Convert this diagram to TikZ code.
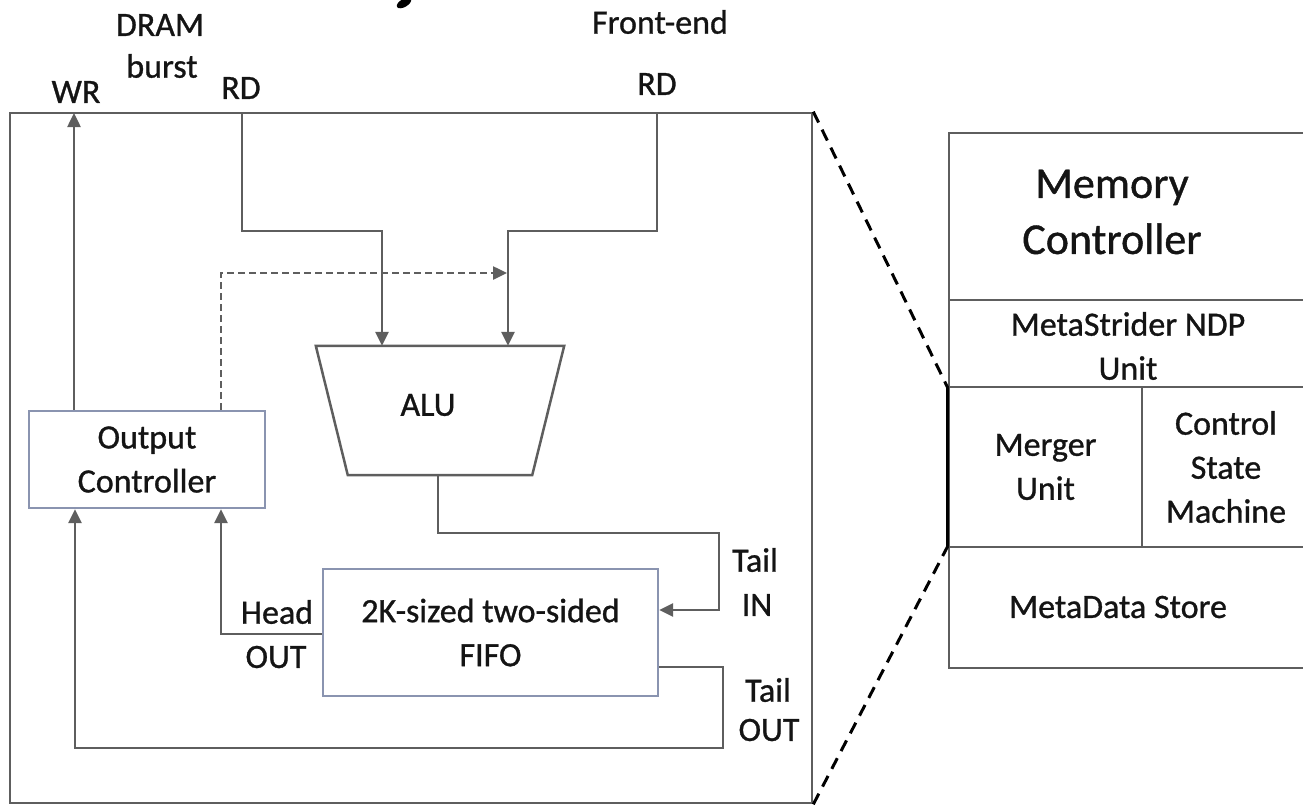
\documentclass[tikz,border=0pt]{standalone}
\usepackage{fontspec}
\setmainfont{Carlito}[FakeBold=0.9]
\usetikzlibrary{arrows.meta,calc}
\definecolor{linegray}{HTML}{5E5E5E}
\definecolor{boxblue}{HTML}{8A94B0}
\definecolor{txt}{HTML}{141414}
\begin{document}
\begin{tikzpicture}[x=1pt,y=-1pt,
  line/.style={draw=linegray, line width=2.5pt},
  arr/.style={line, -{Triangle[length=14pt,width=13pt]}},
  lbl/.style={font=\fontsize{34}{44}\selectfont, text=txt, align=center, inner sep=0pt},
  bigl/.style={font=\fontsize{44}{56}\selectfont, text=txt, align=center, inner sep=0pt},
  bluebox/.style={lbl, draw=boxblue, line width=2.4pt},
  panel/.style={lbl, draw=linegray, line width=2.2pt},
  zoomdash/.style={draw=black, line width=3pt, dash pattern=on 12pt off 8pt}]
\useasboundingbox (0,0) rectangle (1303,806);
% cut-off title fragment
\fill[black] (404,3) ellipse [x radius=8, y radius=4, rotate=30];
% main box
\node[draw=linegray, line width=2.6pt, minimum width=802pt, minimum height=690pt, inner sep=0pt] (mainbox) at (411,458) {};
% blocks
\node[bluebox, minimum width=236pt, minimum height=97pt] (oc) at (147,459.5) {Output\\Controller};
\node[bluebox, minimum width=335pt, minimum height=127pt] (fifo) at (490.5,632.5) {2K-sized two-sided\\FIFO};
\node[inner sep=0pt, minimum width=248pt, minimum height=129pt] (alu) at (440,410.5) {};
\draw[line] (alu.north west) -- (alu.north east) -- ($(alu.south east)+(-32,0)$) -- ($(alu.south west)+(32,0)$) -- cycle;
\node[lbl] (alulbl) at (428,405) {ALU};
% top labels
\node[lbl] (wrl) at (76,92) {WR};
\node[lbl] (draml) at (160,25) {DRAM};
\node[lbl] (burstl) at (162,66) {burst};
\node[lbl] (rd1l) at (241,88) {RD};
\node[lbl] (fel) at (660,22) {Front-end};
\node[lbl] (rd2l) at (657,84) {RD};
% port labels
\node[lbl] (headl) at (277,612) {Head};
\node[lbl] (hOUTl) at (276,657) {OUT};
\node[lbl] (tail1l) at (755,560) {Tail};
\node[lbl] (inl) at (757,605) {IN};
\node[lbl] (tail2l) at (768,690) {Tail};
\node[lbl] (tOUTl) at (769,730) {OUT};
% coordinates
\coordinate (wrtop) at (74,113);
\coordinate (rd1) at (242,113);
\coordinate (k1) at (242,231);
\coordinate (k2) at (382,231);
\coordinate (rd2) at (657,113);
\coordinate (k3) at (657,231);
\coordinate (k4) at (508,231);
\coordinate (d1) at (221,273);
\coordinate (d2) at (507,273);
\coordinate (a1) at (438,533);
\coordinate (a2) at (719,533);
\coordinate (a3) at (719,610);
\coordinate (h1) at (221,634);
\coordinate (t1) at (723,667);
\coordinate (t2) at (723,748);
\coordinate (t3) at (75,748);
% connectors
\draw[arr] (oc.north -| wrtop) -- (wrtop);
\draw[arr] (rd1) -- (k1) -- (k2) -- (k2 |- alu.north);
\draw[arr] (rd2) -- (k3) -- (k4) -- (k4 |- alu.north);
\draw[arr, dash pattern=on 7pt off 4pt] (oc.north -| d1) -- (d1) -- (d2);
\draw[arr] (alu.south -| a1) -- (a1) -- (a2) -- (a3) -- (a3 -| fifo.east);
\draw[arr] (h1 -| fifo.west) -- (h1) -- (h1 |- oc.south);
\draw[arr] (t1 -| fifo.east) -- (t1) -- (t2) -- (t3) -- (t3 |- oc.south);
% right panel
\node[panel, minimum width=361pt, minimum height=167pt] (mc) at (1129.5,216.5) {};
\node[bigl] (mcl) at (1112,212) {Memory\\Controller};
\node[panel, minimum width=361pt, minimum height=87pt] (ndp) at (1129.5,343.5) {};
\node[lbl] (ndpl) at (1128,346) {MetaStrider NDP\\Unit};
\node[panel, minimum width=193pt, minimum height=160pt] (mu) at (1045.5,467) {Merger\\Unit};
\node[panel, minimum width=168pt, minimum height=160pt] (csm) at (1226,467) {Control\\State\\Machine};
\node[panel, minimum width=361pt, minimum height=121pt] (mds) at (1129.5,607.5) {};
\node[lbl] (mdsl) at (1118,607) {MetaData Store};
% zoom indicators
\draw[zoomdash] (mainbox.north east) -- (ndp.south west);
\draw[zoomdash] (mainbox.south east) -- (mds.north west);
\draw[black, line width=3pt] (ndp.south west) -- (mds.north west);
\end{tikzpicture}
\end{document}
